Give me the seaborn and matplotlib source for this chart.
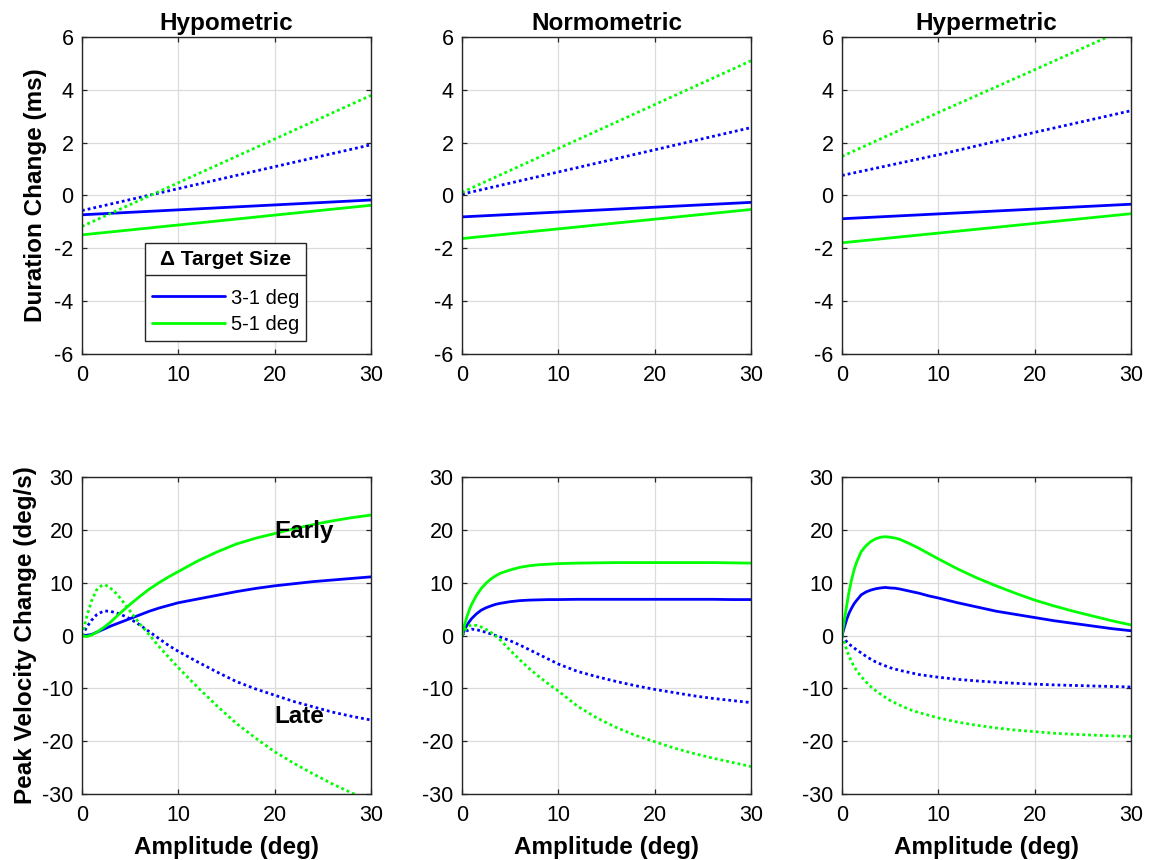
import numpy as np
import pandas as pd
import matplotlib
matplotlib.use("Agg")
import matplotlib.pyplot as plt
import seaborn as sns
from matplotlib.lines import Line2D

# ---------------- data ----------------
panel_titles = ["Hypometric", "Normometric", "Hypermetric"]
size_labels = ["3-1 deg", "5-1 deg"]
phase_labels = ["Early", "Late"]
x_ticks = [0, 10, 20, 30]
dur_ticks = [-6, -4, -2, 0, 2, 4, 6]
pv_ticks = [-30, -20, -10, 0, 10, 20, 30]

# Duration change (ms) -- top row
dur_x_end = [0, 30]
dur_x_four = [0, 10, 20, 30]
dur_hypo_early_31 = [-0.73, -0.17]
dur_hypo_early_51 = [-1.49, -0.37]
dur_hypo_late_31 = [-0.57, 1.92]
dur_hypo_late_51 = [-1.17, 3.79]
dur_normo_early_31 = [-0.81, -0.26]
dur_normo_early_51 = [-1.63, -0.53]
dur_normo_late_31 = [0.05, 2.57]
dur_normo_late_51 = [0.12, 5.10]
dur_hyper_early_31 = [-0.88, -0.33]
dur_hyper_early_51 = [-1.79, -0.69]
dur_hyper_late_31 = [0.76, 1.54, 2.39, 3.21]
dur_hyper_late_51 = [1.48, 3.14, 4.76, 6.40]

# Peak velocity change (deg/s) -- bottom row
pv_x_hypo = [0, 0.5, 1, 1.5, 2, 2.4, 3, 3.5, 4, 4.5, 5, 6, 7, 8, 9, 10, 12, 14, 16, 18, 20, 22, 24, 26, 28, 30]
pv_hypo_early_31 = [0, 0.05, 0.2, 0.6, 1.0, 1.3, 1.8, 2.15, 2.5, 2.85, 3.2, 3.9, 4.6, 5.2, 5.7, 6.2, 6.9, 7.6, 8.3, 8.9, 9.4, 9.8, 10.2, 10.5, 10.8, 11.1]
pv_hypo_early_51 = [0, -0.2, 0.1, 0.6, 1.2, 1.7, 2.6, 3.45, 4.3, 5.1, 5.9, 7.4, 8.8, 10.0, 11.1, 12.1, 14.1, 15.8, 17.3, 18.4, 19.3, 20.2, 21.0, 21.7, 22.3, 22.8]
pv_hypo_late_31 = [0, 1.6, 2.9, 3.9, 4.4, 4.65, 4.55, 4.3, 4.0, 3.6, 3.15, 2.0, 0.7, -0.6, -1.9, -3.0, -5.0, -6.9, -8.7, -10.1, -11.3, -12.5, -13.5, -14.5, -15.3, -16.0]
pv_hypo_late_51 = [0, 3.6, 6.6, 8.6, 9.4, 9.6, 8.9, 8.05, 7.0, 5.85, 4.6, 2.2, 0.1, -2.1, -4.1, -6.1, -9.8, -13.3, -16.6, -19.4, -22.0, -24.2, -26.2, -28.1, -29.8, -31.4]

pv_x_normo = [0, 0.25, 0.5, 0.75, 1, 1.5, 2, 2.5, 3, 3.5, 4, 5, 6, 7, 8, 9, 10, 12, 14, 16, 18, 20, 22, 24, 26, 28, 30]
pv_normo_early_31 = [0, 1.0, 1.9, 2.6, 3.2, 4.1, 4.8, 5.25, 5.6, 5.9, 6.1, 6.4, 6.6, 6.7, 6.75, 6.8, 6.8, 6.85, 6.85, 6.85, 6.85, 6.85, 6.85, 6.85, 6.85, 6.8, 6.8]
pv_normo_early_51 = [0, 1.9, 3.5, 4.8, 5.9, 7.6, 8.9, 9.9, 10.7, 11.3, 11.8, 12.4, 12.9, 13.2, 13.4, 13.5, 13.6, 13.7, 13.75, 13.8, 13.8, 13.8, 13.8, 13.8, 13.8, 13.75, 13.7]
pv_normo_late_31 = [0, 0.5, 0.9, 1.1, 1.2, 1.1, 0.85, 0.6, 0.3, 0.0, -0.3, -1.0, -1.8, -2.7, -3.6, -4.5, -5.4, -6.8, -7.8, -8.7, -9.5, -10.2, -10.8, -11.4, -11.9, -12.3, -12.7]
pv_normo_late_51 = [0, 0.8, 1.5, 1.85, 2.0, 1.9, 1.6, 1.15, 0.6, -0.1, -0.9, -2.8, -4.6, -6.3, -7.8, -9.2, -10.5, -13.4, -15.6, -17.4, -18.9, -20.1, -21.3, -22.3, -23.2, -24.0, -24.8]

pv_x_hyper = [0, 0.25, 0.5, 0.75, 1, 1.25, 1.5, 2, 2.5, 3, 3.5, 4, 4.5, 5, 5.5, 6, 7, 8, 9, 10, 12, 14, 16, 18, 20, 22, 24, 26, 28, 30]
pv_hyper_early_31 = [0, 1.6, 3.1, 4.3, 5.2, 6.0, 6.6, 7.7, 8.25, 8.6, 8.85, 9.0, 9.1, 9.0, 8.95, 8.8, 8.4, 8.0, 7.5, 7.1, 6.2, 5.4, 4.6, 4.0, 3.4, 2.8, 2.3, 1.8, 1.3, 0.9]
pv_hyper_early_51 = [0, 3.0, 5.8, 8.5, 10.6, 12.4, 13.8, 15.9, 17.0, 17.8, 18.3, 18.6, 18.7, 18.6, 18.45, 18.2, 17.4, 16.5, 15.5, 14.5, 12.6, 10.9, 9.4, 8.0, 6.7, 5.6, 4.6, 3.7, 2.8, 2.0]
pv_hyper_late_31 = [0, -0.6, -1.2, -1.65, -2.0, -2.35, -2.7, -3.3, -3.95, -4.5, -5.0, -5.4, -5.75, -6.1, -6.35, -6.6, -7.0, -7.4, -7.65, -7.9, -8.3, -8.6, -8.85, -9.05, -9.2, -9.35, -9.45, -9.55, -9.65, -9.75]
pv_hyper_late_51 = [0, -1.4, -2.8, -4.0, -5.0, -5.85, -6.6, -7.8, -8.8, -9.7, -10.45, -11.1, -11.7, -12.3, -12.75, -13.2, -14.0, -14.6, -15.1, -15.6, -16.4, -17.0, -17.5, -17.9, -18.2, -18.5, -18.7, -18.85, -19.0, -19.1]


def build(series):
    rows = []
    for xs, ys, size, phase in series:
        for xv, yv in zip(xs, ys):
            rows.append({"x": xv, "y": yv, "size": size, "phase": phase})
    return pd.DataFrame(rows)


dur_frames = [
    build([(dur_x_end, dur_hypo_early_31, "3-1 deg", "Early"), (dur_x_end, dur_hypo_early_51, "5-1 deg", "Early"),
           (dur_x_end, dur_hypo_late_31, "3-1 deg", "Late"), (dur_x_end, dur_hypo_late_51, "5-1 deg", "Late")]),
    build([(dur_x_end, dur_normo_early_31, "3-1 deg", "Early"), (dur_x_end, dur_normo_early_51, "5-1 deg", "Early"),
           (dur_x_end, dur_normo_late_31, "3-1 deg", "Late"), (dur_x_end, dur_normo_late_51, "5-1 deg", "Late")]),
    build([(dur_x_end, dur_hyper_early_31, "3-1 deg", "Early"), (dur_x_end, dur_hyper_early_51, "5-1 deg", "Early"),
           (dur_x_four, dur_hyper_late_31, "3-1 deg", "Late"), (dur_x_four, dur_hyper_late_51, "5-1 deg", "Late")]),
]
pv_frames = [
    build([(pv_x_hypo, pv_hypo_early_31, "3-1 deg", "Early"), (pv_x_hypo, pv_hypo_early_51, "5-1 deg", "Early"),
           (pv_x_hypo, pv_hypo_late_31, "3-1 deg", "Late"), (pv_x_hypo, pv_hypo_late_51, "5-1 deg", "Late")]),
    build([(pv_x_normo, pv_normo_early_31, "3-1 deg", "Early"), (pv_x_normo, pv_normo_early_51, "5-1 deg", "Early"),
           (pv_x_normo, pv_normo_late_31, "3-1 deg", "Late"), (pv_x_normo, pv_normo_late_51, "5-1 deg", "Late")]),
    build([(pv_x_hyper, pv_hyper_early_31, "3-1 deg", "Early"), (pv_x_hyper, pv_hyper_early_51, "5-1 deg", "Early"),
           (pv_x_hyper, pv_hyper_late_31, "3-1 deg", "Late"), (pv_x_hyper, pv_hyper_late_51, "5-1 deg", "Late")]),
]

# ---------------- style ----------------
sns.set_theme(style="white")
plt.rcParams["font.family"] = ["Liberation Sans", "DejaVu Sans"]
plt.rcParams["axes.unicode_minus"] = False
plt.rcParams["text.color"] = "black"
plt.rcParams["axes.labelcolor"] = "black"
AX_COLOR = "#262626"
palette = {"3-1 deg": (0, 0, 1), "5-1 deg": (0, 1, 0)}
dashes = {"Early": "", "Late": (1, 1.1)}
LW = 2.0
TICK_FS = 15.5
LABEL_FS = 17.5

fig = plt.figure(figsize=(11.57, 8.6), dpi=100)
W, H = 1157.0, 860.0
lefts = [82, 462, 842]
ax_w, ax_h = 289, 317
tops = [37, 477]


def style_axes(ax, yticks, ylim):
    ax.set_xlim(0, 30)
    ax.set_ylim(*ylim)
    ax.set_xticks(x_ticks)
    ax.set_yticks(yticks)
    ax.grid(True, color="#dcdcdc", linewidth=0.9)
    ax.set_axisbelow(True)
    for sp in ax.spines.values():
        sp.set_color(AX_COLOR)
        sp.set_linewidth(1.0)
        sp.set_visible(True)
    ax.tick_params(direction="in", length=3.5, width=0.9, color=AX_COLOR,
                   labelsize=TICK_FS, labelcolor="black", top=True, right=True,
                   bottom=True, left=True)
    ax.tick_params(axis="x", pad=8)
    ax.tick_params(axis="y", pad=6)
    ax.set_xlabel("")
    ax.set_ylabel("")


axes_top, axes_bot = [], []
for i in range(3):
    l = lefts[i] / W
    axt = fig.add_axes([l, 1 - (tops[0] + ax_h) / H, ax_w / W, ax_h / H])
    axb = fig.add_axes([l, 1 - (tops[1] + ax_h) / H, ax_w / W, ax_h / H])
    sns.lineplot(data=dur_frames[i], x="x", y="y", hue="size", style="phase",
                 palette=palette, dashes=dashes, linewidth=LW, legend=False,
                 estimator=None, sort=False, ax=axt)
    sns.lineplot(data=pv_frames[i], x="x", y="y", hue="size", style="phase",
                 palette=palette, dashes=dashes, linewidth=LW, legend=False,
                 estimator=None, sort=False, ax=axb)
    for ln in axt.get_lines() + axb.get_lines():
        ln.set_dash_capstyle("butt")
    style_axes(axt, dur_ticks, (-6, 6))
    style_axes(axb, pv_ticks, (-30, 30))
    axt.set_title(panel_titles[i], fontsize=LABEL_FS, fontweight="bold", pad=5)
    axb.set_xlabel("Amplitude (deg)", fontsize=LABEL_FS, fontweight="bold", labelpad=7)
    axes_top.append(axt)
    axes_bot.append(axb)

axes_top[0].set_ylabel("Duration Change (ms)", fontsize=LABEL_FS, fontweight="bold", labelpad=5)
axes_bot[0].set_ylabel("Peak Velocity Change (deg/s)", fontsize=LABEL_FS, fontweight="bold", labelpad=4)

axes_bot[0].text(20, 19.6, "Early", fontsize=LABEL_FS, fontweight="bold", ha="left", va="center")
axes_bot[0].text(20, -15.4, "Late", fontsize=LABEL_FS, fontweight="bold", ha="left", va="center")

# legend
handles = [Line2D([0], [0], color=palette[s], lw=LW) for s in size_labels]
leg = axes_top[0].legend(handles, size_labels, title="\u0394 Target Size",
                         loc="upper left", bbox_to_anchor=(0.218, 0.35),
                         borderaxespad=0, fontsize=14.5, handlelength=3.6,
                         handletextpad=0.3, labelspacing=0.35, borderpad=0.35,
                         fancybox=False, framealpha=1, edgecolor=AX_COLOR,
                         title_fontproperties={"weight": "bold", "size": 15})
leg.get_frame().set_linewidth(1.0)
leg._legend_box.sep = 14

fig.canvas.draw()
r = fig.canvas.get_renderer()
fb = leg.get_frame().get_window_extent(r)
tb = leg.get_title().get_window_extent(r)
ysep = tb.y0 - 6
fig.add_artist(Line2D([fb.x0 / fig.bbox.width, fb.x1 / fig.bbox.width],
                      [ysep / fig.bbox.height, ysep / fig.bbox.height],
                      transform=fig.transFigure, color=AX_COLOR, lw=1.0))

fig.savefig("out.png", dpi=100)
